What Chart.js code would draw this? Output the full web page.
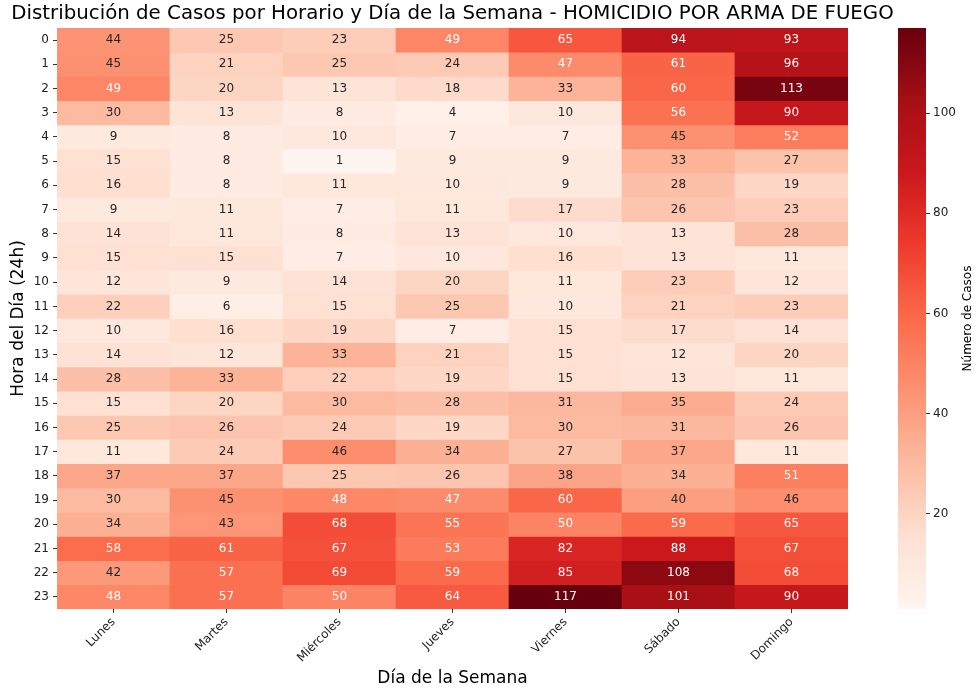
<!DOCTYPE html>
<html>
<head>
<meta charset="utf-8">
<script src="https://cdn.jsdelivr.net/npm/chart.js@4"></script>
<style>
  html, body { margin: 0; padding: 0; background: #fff; }
  #wrap { position: relative; width: 976px; height: 692px; }
  #heat { position: absolute; left: 0; top: 0; }
  #cbar { position: absolute; left: 880px; top: 0; }
</style>
</head>
<body>
<div id="wrap">
  <canvas id="heat" width="976" height="692"></canvas>
  <canvas id="cbar" width="96" height="692"></canvas>
</div>
<script>
const chartTitle = 'Distribución de Casos por Horario y Día de la Semana - HOMICIDIO POR ARMA DE FUEGO';
const days = ['Lunes', 'Martes', 'Miércoles', 'Jueves', 'Viernes', 'Sábado', 'Domingo'];
const hours = ['0','1','2','3','4','5','6','7','8','9','10','11','12','13','14','15','16','17','18','19','20','21','22','23'];

// casos por hora (0..23) para cada día
const lunes     = [44, 45, 49, 30,  9, 15, 16,  9, 14, 15, 12, 22, 10, 14, 28, 15, 25, 11, 37, 30, 34, 58, 42, 48];
const martes    = [25, 21, 20, 13,  8,  8,  8, 11, 11, 15,  9,  6, 16, 12, 33, 20, 26, 24, 37, 45, 43, 61, 57, 57];
const miercoles = [23, 25, 13,  8, 10,  1, 11,  7,  8,  7, 14, 15, 19, 33, 22, 30, 24, 46, 25, 48, 68, 67, 69, 50];
const jueves    = [49, 24, 18,  4,  7,  9, 10, 11, 13, 10, 20, 25,  7, 21, 19, 28, 19, 34, 26, 47, 55, 53, 59, 64];
const viernes   = [65, 47, 33, 10,  7,  9,  9, 17, 10, 16, 11, 10, 15, 15, 15, 31, 30, 27, 38, 60, 50, 82, 85, 117];
const sabado    = [94, 61, 60, 56, 45, 33, 28, 26, 13, 13, 23, 21, 17, 12, 13, 35, 31, 37, 34, 40, 59, 88, 108, 101];
const domingo   = [93, 96, 113, 90, 52, 27, 19, 23, 28, 11, 12, 23, 14, 20, 11, 24, 26, 11, 51, 46, 65, 67, 68, 90];
const columns = [lunes, martes, miercoles, jueves, viernes, sabado, domingo];

const vmin = 1, vmax = 117;
const cbTicks = [20, 40, 60, 80, 100];
const reds = ['#fff5f0','#fee0d2','#fcbba1','#fc9272','#fb6a4a','#ef3b2c','#cb181d','#a50f15','#67000d'];

function hexRgb(h) {
  return [parseInt(h.slice(1,3),16), parseInt(h.slice(3,5),16), parseInt(h.slice(5,7),16)];
}
function cmapRgb(v) {
  let t = (v - vmin) / (vmax - vmin);
  t = Math.max(0, Math.min(1, t));
  const p = t * (reds.length - 1);
  const i = Math.min(Math.floor(p), reds.length - 2);
  const f = p - i;
  const a = hexRgb(reds[i]), b = hexRgb(reds[i + 1]);
  return a.map((c, k) => c + (b[k] - c) * f);
}
function cmap(v) {
  const c = cmapRgb(v);
  return 'rgb(' + c.map(Math.round).join(',') + ')';
}
function textColor(v) {
  const lin = cmapRgb(v).map(c => {
    c = c / 255;
    return c <= 0.03928 ? c / 12.92 : Math.pow((c + 0.055) / 1.055, 2.4);
  });
  const lum = 0.2126 * lin[0] + 0.7152 * lin[1] + 0.0722 * lin[2];
  return lum > 0.408 ? '#262626' : '#ffffff';
}

const FONT = 'DejaVu Sans';

const cellLabels = {
  id: 'cellLabels',
  afterDatasetsDraw(chart) {
    const ctx = chart.ctx;
    ctx.save();
    ctx.font = '12px "' + FONT + '"';
    ctx.textAlign = 'center';
    ctx.textBaseline = 'middle';
    chart.data.datasets.forEach((ds, h) => {
      chart.getDatasetMeta(h).data.forEach((bar, j) => {
        const v = columns[j][h];
        const p = bar.getCenterPoint();
        ctx.fillStyle = textColor(v);
        ctx.fillText(String(v), p.x, p.y);
      });
    });
    ctx.restore();
  },
  afterDraw(chart) {
    const ctx = chart.ctx;
    const a = chart.chartArea;
    ctx.save();
    ctx.font = '19.8px "' + FONT + '"';
    ctx.fillStyle = '#000';
    ctx.textAlign = 'center';
    ctx.textBaseline = 'middle';
    ctx.fillText(chartTitle, (a.left + a.right) / 2, 14);
    ctx.restore();
  }
};

new Chart(document.getElementById('heat'), {
  type: 'bar',
  data: {
    labels: days,
    datasets: hours.map((h, i) => ({
      label: h,
      data: days.map(() => [i, i + 1]),
      backgroundColor: columns.map(col => cmap(col[i])),
      borderWidth: 0,
      grouped: false,
      barPercentage: 1,
      categoryPercentage: 1
    }))
  },
  options: {
    responsive: false,
    animation: false,
    layout: { padding: { left: 0, right: 128, top: 28, bottom: 0 } },
    plugins: { legend: { display: false }, tooltip: { enabled: false } },
    scales: {
      x: {
        type: 'category',
        afterFit: s => { s.height = 83; },
        border: { display: false },
        grid: { display: true, offset: false, drawOnChartArea: false, drawTicks: true, tickLength: 4, tickColor: '#333' },
        ticks: { color: '#222', font: { family: FONT, size: 12 }, maxRotation: 45, minRotation: 45, padding: 2, autoSkip: false },
        title: { display: true, text: 'Día de la Semana', color: '#000', font: { family: FONT, size: 17 }, padding: { top: 0, bottom: 3 } }
      },
      y: {
        type: 'linear',
        min: 0,
        max: hours.length,
        reverse: true,
        afterFit: s => { s.width = 57; },
        afterBuildTicks: s => { s.ticks = hours.map((h, i) => ({ value: i + 0.5 })); },
        border: { display: false },
        grid: { display: true, drawOnChartArea: false, drawTicks: true, tickLength: 4, tickColor: '#333' },
        ticks: { color: '#222', font: { family: FONT, size: 12 }, padding: 4, autoSkip: false,
                 callback: v => hours[Math.floor(v)] },
        title: { display: true, text: 'Hora del Día (24h)', color: '#000', font: { family: FONT, size: 17 }, padding: { top: 8, bottom: 0 } }
      }
    }
  },
  plugins: [cellLabels]
});

const cbLabel = {
  id: 'cbLabel',
  afterDraw(chart) {
    const ctx = chart.ctx;
    const a = chart.chartArea;
    ctx.save();
    ctx.font = '12px "' + FONT + '"';
    ctx.fillStyle = '#000';
    ctx.textAlign = 'center';
    ctx.textBaseline = 'middle';
    ctx.translate(88, (a.top + a.bottom) / 2);
    ctx.rotate(-Math.PI / 2);
    ctx.fillText('Número de Casos', 0, 0);
    ctx.restore();
  }
};

new Chart(document.getElementById('cbar'), {
  type: 'bar',
  data: {
    labels: [''],
    datasets: [{
      data: [[vmin, vmax]],
      borderWidth: 0,
      barPercentage: 1,
      categoryPercentage: 1,
      backgroundColor: c => {
        const ch = c.chart;
        const ys = ch.scales.y;
        if (!ys || !ch.chartArea) return reds[4];
        const g = ch.ctx.createLinearGradient(0, ys.getPixelForValue(vmin), 0, ys.getPixelForValue(vmax));
        reds.forEach((col, i) => g.addColorStop(i / (reds.length - 1), col));
        return g;
      }
    }]
  },
  options: {
    responsive: false,
    animation: false,
    layout: { padding: { left: 18, right: 0, top: 28, bottom: 83 } },
    plugins: { legend: { display: false }, tooltip: { enabled: false } },
    scales: {
      x: { display: false },
      y: {
        position: 'right',
        min: vmin,
        max: vmax,
        afterFit: s => { s.width = 50; },
        afterBuildTicks: s => { s.ticks = cbTicks.map(v => ({ value: v })); },
        border: { display: false },
        grid: { display: true, drawOnChartArea: false, drawTicks: true, tickLength: 4, tickColor: '#333' },
        ticks: { color: '#222', font: { family: FONT, size: 12 }, padding: 3 }
      }
    }
  },
  plugins: [cbLabel]
});
</script>
</body>
</html>
